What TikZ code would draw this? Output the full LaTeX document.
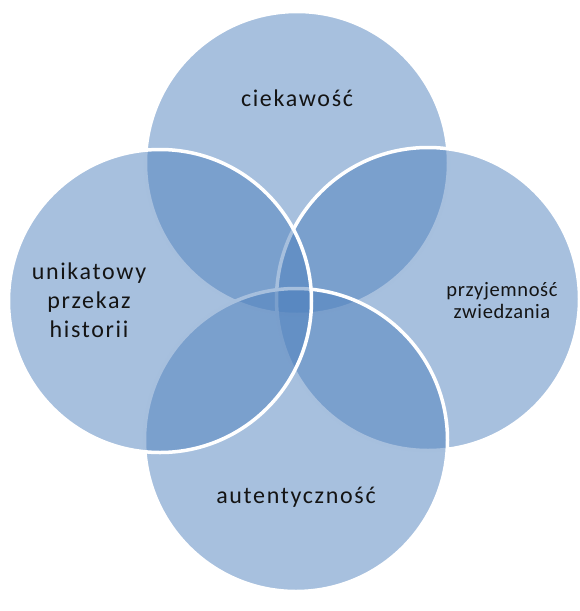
\documentclass[tikz,border=0pt]{standalone}
\usepackage{fontspec}
\setmainfont{Carlito}
\newfontfamily\wideface[LetterSpace=7]{Carlito}
\newfontfamily\narrowface[LetterSpace=3]{Carlito}
\usepackage{tikz}
\usetikzlibrary{positioning}
\definecolor{Accent}{RGB}{79,129,189}
\colorlet{Ink}{black!92}

\begin{document}
\begin{tikzpicture}[x=1pt, y=-1pt,
        petal/.style={circle, fill=Accent, fill opacity=0.5, draw=white, draw opacity=1, line width=3.5pt, minimum size=303pt, inner sep=0pt},
        caption/.style={align=center, text=Ink, inner sep=0pt, font=\wideface\fontsize{24}{29}\selectfont},
        smallcaption/.style={align=center, text=Ink, inner sep=0pt, font=\narrowface\fontsize{20.5}{22}\selectfont}]
        \useasboundingbox (0,0) rectangle (579,611);

        % circles (drawn in the order of the items)
        \node[petal] (Cur) at (297,163) {};
        \node[petal] (Ple) at (428,299) {};
        \node[petal] (Aut) at (296,440) {};
        \node[petal] (Uni) at (160,301) {};

        % labels
        \node[caption] (CurText) at (297,98) {ciekawość};
        \node[smallcaption] (PleText) at (502,301) {przyjemność\\zwiedzania};
        \node[caption] (AutText) at (296,497) {autentyczność};
        \node[caption] (UniText) at (89,300) {unikatowy\\przekaz\\historii};
\end{tikzpicture}
\end{document}
